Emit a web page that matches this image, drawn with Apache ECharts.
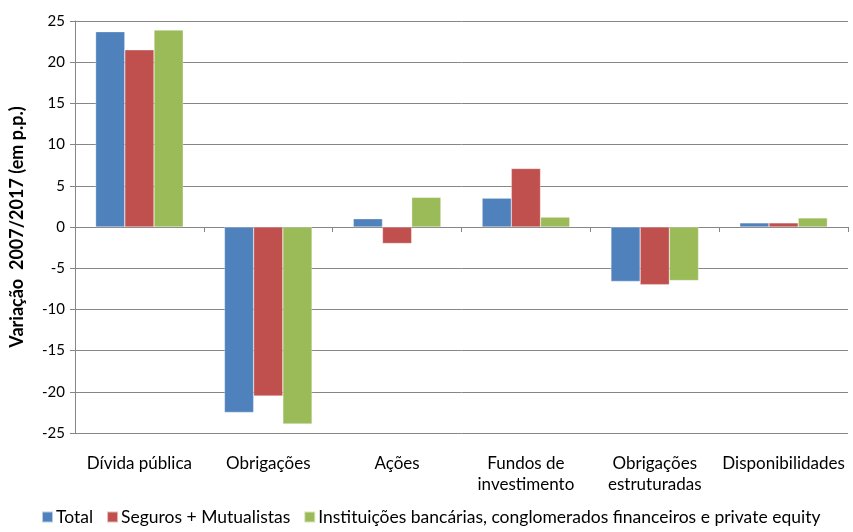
<!DOCTYPE html>
<html><head><meta charset="utf-8">
<script src="https://cdn.jsdelivr.net/npm/echarts@6/dist/echarts.min.js"></script>
<style>html,body{margin:0;padding:0;background:#fff}#c{width:853px;height:532px}</style>
</head><body><div id="c"></div>
<script>
const categories = ['Dívida pública', 'Obrigações', 'Ações', 'Fundos de\ninvestimento', 'Obrigações\nestruturadas', 'Disponibilidades'];
const seriesNames = ['Total', 'Seguros + Mutualistas', 'Instituições bancárias, conglomerados financeiros e private equity'];
const totalValues = [23.7, -22.5, 1.0, 3.5, -6.6, 0.5];
const segurosValues = [21.5, -20.5, -2.0, 7.1, -7.0, 0.5];
const bancosValues = [23.9, -23.9, 3.6, 1.2, -6.5, 1.1];
const yTicks = [-25, -20, -15, -10, -5, 0, 5, 10, 15, 20, 25];
const colors = ['#4F81BD', '#C0504D', '#9BBB59'];
const font = 'Lato';

const chart = echarts.init(document.getElementById('c'));
const mk = (name, data, i) => ({
  name, type: 'bar', data, xAxisIndex: 0, barGap: '0%', barCategoryGap: '32%',
  itemStyle: { color: colors[i], borderColor: 'rgba(255,255,255,0.6)', borderWidth: 0.5 }
});
chart.setOption({
  animation: false,
  textStyle: { fontFamily: font },
  grid: { left: 75, right: 5, top: 21, bottom: 99, containLabel: false, outerBoundsMode: 'none' },
  legend: {
    bottom: 1, left: 36, itemWidth: 11, itemHeight: 11, itemGap: 13,
    icon: 'rect',
    textStyle: { fontFamily: font, fontSize: 17.5, color: '#000', padding: [0, 0, 0, -2] },
    data: seriesNames
  },
  xAxis: [
    { type: 'category', data: categories, position: 'bottom',
      axisLine: { show: false, onZero: false }, axisTick: { show: false },
      axisLabel: { color: '#000', fontSize: 17, fontFamily: font, margin: 20, lineHeight: 21, interval: 0 } },
    { type: 'category', data: categories, position: 'bottom', gridIndex: 0,
      axisLine: { show: true, onZero: true, lineStyle: { color: '#868686', width: 1 } },
      axisTick: { show: true, length: 5, lineStyle: { color: '#868686' } },
      axisLabel: { show: false } }
  ],
  yAxis: {
    type: 'value', min: -25, max: 25, interval: 5,
    name: 'Variação  2007/2017 (em p.p.)', nameLocation: 'middle', nameGap: 49,
    nameTextStyle: { fontWeight: 'bold', fontSize: 18, color: '#000', fontFamily: font },
    axisLine: { show: true, lineStyle: { color: '#868686' } },
    axisTick: { show: true, length: 5, lineStyle: { color: '#868686' } },
    axisLabel: { color: '#000', fontSize: 15, fontFamily: font, margin: 10,
      formatter: v => yTicks.includes(v) ? String(v) : '' },
    splitLine: { show: true, lineStyle: { color: '#868686', width: 1 } }
  },
  series: [mk(seriesNames[0], totalValues, 0), mk(seriesNames[1], segurosValues, 1), mk(seriesNames[2], bancosValues, 2)]
});
</script></body></html>
